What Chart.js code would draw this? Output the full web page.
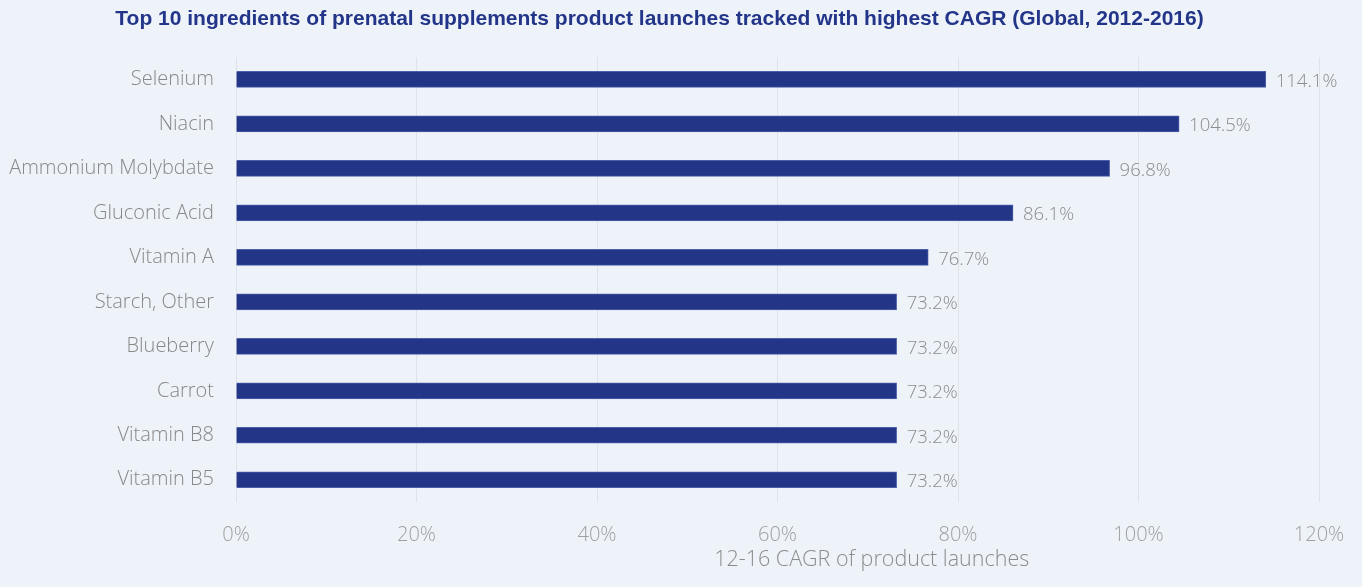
<!DOCTYPE html>
<html>
<head>
<meta charset="utf-8">
<script src="https://cdn.jsdelivr.net/npm/chart.js@4"></script>
<style>
  html, body { margin: 0; padding: 0; background: #eef3fa; }
  #wrap { width: 1362px; height: 587px; }
</style>
</head>
<body>
<div id="wrap"><canvas id="cagrChart"></canvas></div>
<script>
// chart data
const ingredients = ["Selenium", "Niacin", "Ammonium Molybdate", "Gluconic Acid", "Vitamin A",
    "Starch, Other", "Blueberry", "Carrot", "Vitamin B8", "Vitamin B5"];
const cagrValues = [114.1, 104.5, 96.8, 86.1, 76.7, 73.2, 73.2, 73.2, 73.2, 73.2];
const xTicks = [0, 20, 40, 60, 80, 100, 120];

const labelFont = "'Open Sans', 'Segoe UI', sans-serif";

// value labels at the end of each bar
const barLabels = {
    id: 'barLabels',
    afterDatasetsDraw(chart) {
        const ctx = chart.ctx;
        const meta = chart.getDatasetMeta(0);
        ctx.save();
        ctx.font = "300 18.5px " + labelFont;
        ctx.fillStyle = '#8c8c8c';
        ctx.textAlign = 'left';
        ctx.textBaseline = 'middle';
        meta.data.forEach(function (bar, i) {
            ctx.fillText(cagrValues[i].toFixed(1) + '%', bar.x + 10, bar.y + 2);
        });
        ctx.restore();
    }
};

// x axis title, sits a bit right of centre like the original
const axisTitle = {
    id: 'axisTitle',
    afterDraw(chart) {
        const ctx = chart.ctx;
        const area = chart.chartArea;
        ctx.save();
        ctx.font = "300 21.5px " + labelFont;
        ctx.fillStyle = '#8c8c8c';
        ctx.textAlign = 'center';
        ctx.textBaseline = 'middle';
        ctx.fillText('12-16 CAGR of product launches', area.left + (area.right - area.left) * 0.587, 560);
        ctx.restore();
    }
};

new Chart(document.getElementById('cagrChart'), {
    type: 'bar',
    data: {
        labels: ingredients,
        datasets: [{
            data: cagrValues,
            backgroundColor: '#223587',
            borderColor: '#4d5fa8',
            borderWidth: 1,
            barThickness: 16
        }]
    },
    options: {
        indexAxis: 'y',
        responsive: true,
        maintainAspectRatio: false,
        animation: false,
        layout: { padding: { left: 0, right: 43, top: 0, bottom: 0 } },
        plugins: {
            legend: { display: false },
            tooltip: { enabled: false },
            title: {
                display: true,
                text: 'Top 10 ingredients of prenatal supplements product launches tracked with highest CAGR (Global, 2012-2016)',
                color: '#233588',
                font: { family: "'Liberation Sans Narrow', 'Liberation Sans', Arial, sans-serif", size: 21, weight: 'bold' },
                padding: { top: 7, bottom: 25 }
            }
        },
        scales: {
            x: {
                min: 0,
                max: 120,
                afterBuildTicks(scale) {
                    scale.ticks = xTicks.map(v => ({ value: v }));
                },
                afterFit(scale) {
                    scale.height = 85;
                    scale.paddingLeft = 0;
                    scale.paddingRight = 0;
                },
                grid: { color: '#dfe2e8', drawTicks: false },
                border: { display: false },
                ticks: {
                    padding: 21,
                    color: '#a0a0a0',
                    font: { family: labelFont, size: 20, weight: 300 },
                    callback: v => v + '%'
                }
            },
            y: {
                afterFit(scale) { scale.width = 236; },
                grid: { display: false, drawTicks: false },
                border: { display: false },
                ticks: {
                    padding: 22,
                    color: '#888888',
                    font: { family: labelFont, size: 20, weight: 300 }
                }
            }
        }
    },
    plugins: [barLabels, axisTitle]
});
</script>
</body>
</html>
